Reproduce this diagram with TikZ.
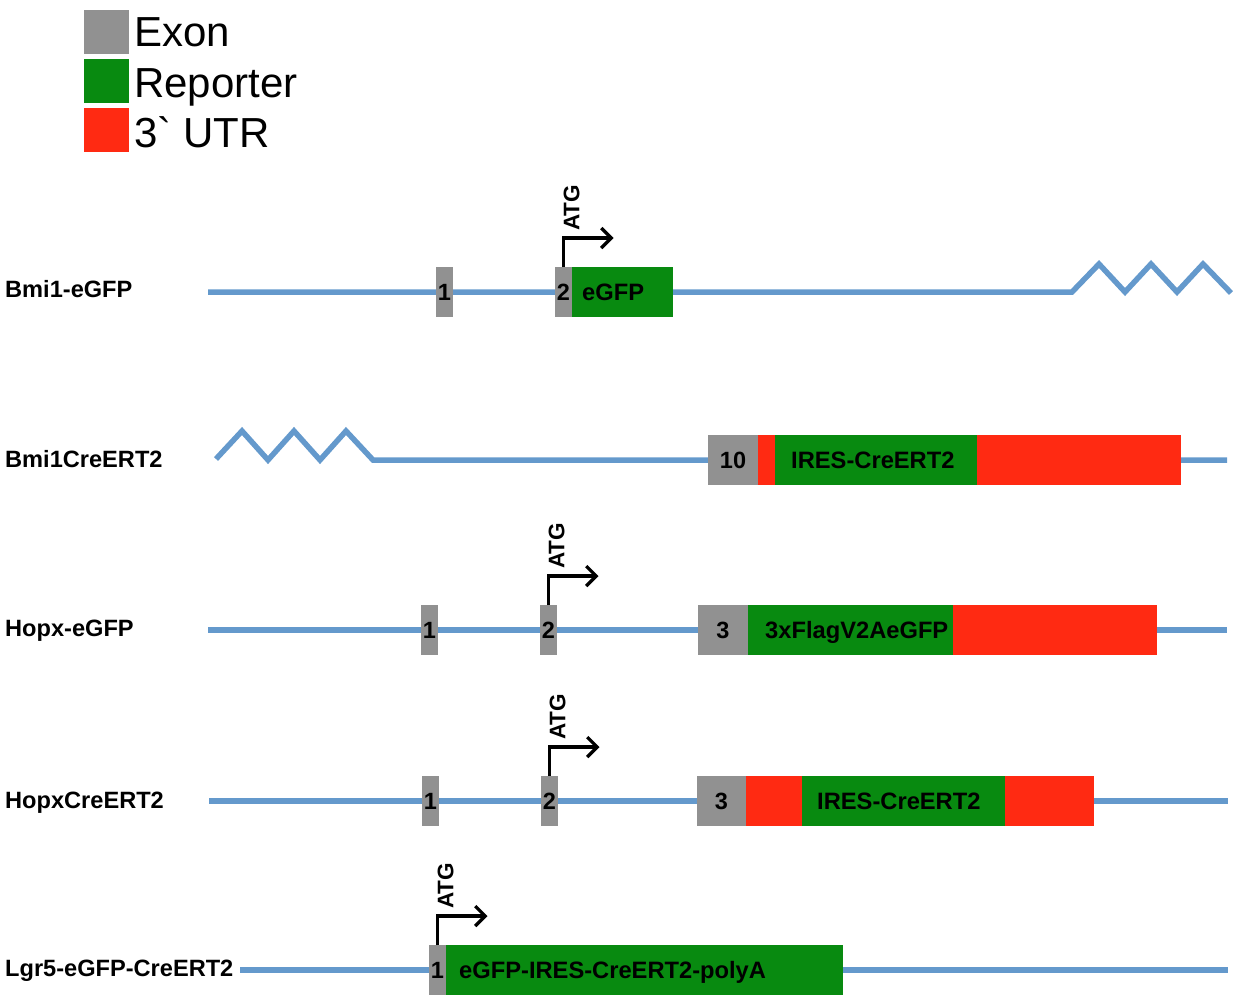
\documentclass[tikz,border=0pt]{standalone}
\usepackage{fontspec}
\setmainfont{Liberation Sans}[Ligatures=TeXOff]
\usetikzlibrary{arrows.meta,calc}
\definecolor{exgray}{RGB}{145,145,145}
\definecolor{repgreen}{RGB}{8,138,16}
\definecolor{utrred}{RGB}{255,42,18}
\definecolor{bbblue}{RGB}{100,153,204}
\begin{document}
\begin{tikzpicture}[x=1pt,y=-1pt,
  backbone/.style={draw=bbblue, line width=5.5pt},
  blk/.style={inner sep=0pt, outer sep=0pt, minimum height=50pt, anchor=west, draw=none,
    font=\fontsize{23.5}{27}\selectfont\bfseries},
  exon/.style={blk, fill=exgray, minimum width=17pt},
  rep/.style={blk, fill=repgreen},
  utr/.style={blk, fill=utrred},
  blktext/.style={anchor=base west, inner sep=0pt, font=\fontsize{23.7}{27}\selectfont\bfseries},
  rowlabel/.style={anchor=base west, inner sep=0pt, font=\fontsize{23.6}{27}\selectfont\bfseries},
  atgarrow/.style={draw=black, line width=3.2pt, -{Straight Barb[length=10pt,width=20pt]}},
  atgtext/.style={rotate=90, anchor=north west, inner sep=0pt, font=\fontsize{22.5}{26}\selectfont\bfseries},
  legsq/.style={minimum width=45pt, minimum height=44pt, inner sep=0pt, anchor=north west, draw=none},
  legtext/.style={anchor=base west, inner sep=0pt, font=\fontsize{42}{48}\selectfont}
]
\useasboundingbox (0,0) rectangle (1233,1004);

% Legend
\node[legsq, fill=exgray] (lgex) at (84,10) {};
\node[legsq, fill=repgreen] (lgrep) at (84,59) {};
\node[legsq, fill=utrred] (lgutr) at (84,108) {};
\node[legtext] (lgext) at (134,46) {Exon};
\node[legtext] (lgrept) at (134,97) {Reporter};
\node[legtext] (lgutrt) at (134,147) {3\symbol{96} UTR};

% Row 1: Bmi1-eGFP
\node[rowlabel] (l1) at (5,297) {Bmi1-eGFP};
\coordinate (r1a) at (208,292);
\coordinate (r1b) at (1072,292);
\draw[backbone] (r1a) -- (r1b) -- ++(27,-28) -- ++(26,28) -- ++(26,-28) -- ++(26,28) -- ++(26,-28) -- ++(28,29);
\node[exon] (r1e1) at (436,292) {1};
\node[exon] (r1e2) at (555,292) {2};
\node[rep, minimum width=101pt] (r1rep) at (r1e2.east) {};
\node[blktext] (r1rept) at ([xshift=10pt,yshift=-8.5pt]r1rep.west) {eGFP};
\draw[atgarrow] (r1e2.north) -- ++(0,-29) -- ++(50,0);
\path (r1e2.north) ++(0,-36) node[atgtext] (r1atg) {ATG};

% Row 2: Bmi1CreERT2
\node[rowlabel] (l2) at (5,467) {Bmi1CreERT2};
\coordinate (r2a) at (216,459);
\coordinate (r2b) at (1227,460);
\draw[backbone] (r2a) -- (242,431) -- (268,460) -- (294,431) -- (320,460) -- (346,431) -- (373,460) -- (r2b);
\node[exon, minimum width=50pt] (r2ex) at (708,460) {10};
\node[utr, minimum width=17pt] (r2u1) at (r2ex.east) {};
\node[rep, minimum width=202pt] (r2rep) at (r2u1.east) {};
\node[utr, minimum width=204pt] (r2u2) at (r2rep.east) {};
\node[blktext] (r2rept) at ([xshift=16pt,yshift=-8.5pt]r2rep.west) {IRES-CreERT2};

% Row 3: Hopx-eGFP
\node[rowlabel] (l3) at (5,636) {Hopx-eGFP};
\coordinate (r3a) at (208,630);
\coordinate (r3b) at (1227,630);
\draw[backbone] (r3a) -- (r3b);
\node[exon] (r3e1) at (421,630) {1};
\node[exon] (r3e2) at (540,630) {2};
\node[exon, minimum width=50pt] (r3e3) at (698,630) {3};
\node[rep, minimum width=205pt] (r3rep) at (r3e3.east) {};
\node[utr, minimum width=204pt] (r3u) at (r3rep.east) {};
\node[blktext] (r3rept) at ([xshift=17pt,yshift=-8.5pt]r3rep.west) {3xFlagV2AeGFP};
\draw[atgarrow] (r3e2.north) -- ++(0,-29) -- ++(50,0);
\path (r3e2.north) ++(0,-36) node[atgtext] (r3atg) {ATG};

% Row 4: HopxCreERT2
\node[rowlabel] (l4) at (5,808) {HopxCreERT2};
\coordinate (r4a) at (209,801);
\coordinate (r4b) at (1228,801);
\draw[backbone] (r4a) -- (r4b);
\node[exon] (r4e1) at (422,801) {1};
\node[exon] (r4e2) at (541,801) {2};
\node[exon, minimum width=49pt] (r4e3) at (697,801) {3};
\node[utr, minimum width=56pt] (r4u1) at (r4e3.east) {};
\node[rep, minimum width=203pt] (r4rep) at (r4u1.east) {};
\node[utr, minimum width=89pt] (r4u2) at (r4rep.east) {};
\node[blktext] (r4rept) at ([xshift=15pt,yshift=-8.5pt]r4rep.west) {IRES-CreERT2};
\draw[atgarrow] (r4e2.north) -- ++(0,-29) -- ++(50,0);
\path (r4e2.north) ++(0,-36) node[atgtext] (r4atg) {ATG};

% Row 5: Lgr5-eGFP-CreERT2
\node[rowlabel] (l5) at (5,976) {Lgr5-eGFP-CreERT2};
\coordinate (r5a) at (240,970);
\coordinate (r5b) at (1228,970);
\draw[backbone] (r5a) -- (r5b);
\node[exon] (r5e1) at (429,970) {1};
\node[rep, minimum width=397pt] (r5rep) at (r5e1.east) {};
\node[blktext] (r5rept) at ([xshift=13pt,yshift=-8.5pt]r5rep.west) {eGFP-IRES-CreERT2-polyA};
\draw[atgarrow] (r5e1.north) -- ++(0,-29) -- ++(50,0);
\path (r5e1.north) ++(0,-36) node[atgtext] (r5atg) {ATG};
\end{tikzpicture}
\end{document}
